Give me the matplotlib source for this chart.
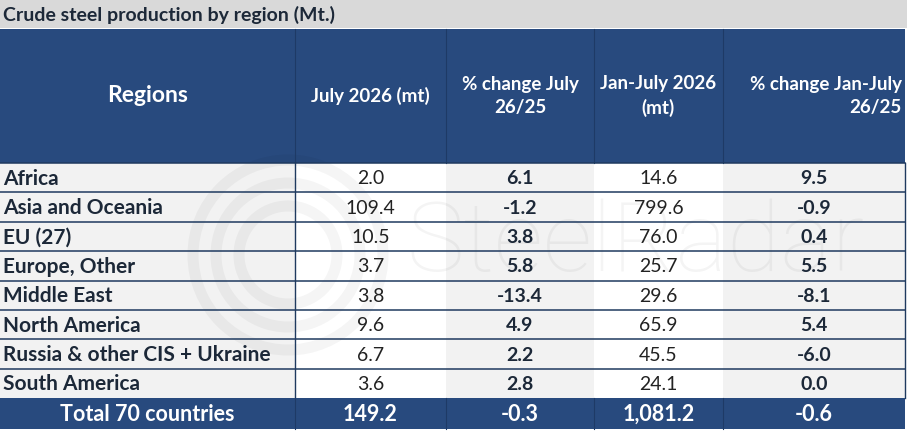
import matplotlib
matplotlib.use("Agg")
import matplotlib.pyplot as plt
from matplotlib.patches import Rectangle, Circle

plt.rcParams['font.family'] = ['Lato', 'DejaVu Sans']

title = "Crude steel production by region (Mt.)"
headers = ["Regions", "July 2026 (mt)", "% change July\n26/25",
           "Jan-July 2026\n(mt)", "% change Jan-July\n26/25"]
regions = ["Africa", "Asia and Oceania", "EU (27)", "Europe, Other", "Middle East",
           "North America", "Russia & other CIS + Ukraine", "South America"]
july_mt = ["2.0", "109.4", "10.5", "3.7", "3.8", "9.6", "6.7", "3.6"]
july_chg = ["6.1", "-1.2", "3.8", "5.8", "-13.4", "4.9", "2.2", "2.8"]
ytd_mt = ["14.6", "799.6", "76.0", "25.7", "29.6", "65.9", "45.5", "24.1"]
ytd_chg = ["9.5", "-0.9", "0.4", "5.5", "-8.1", "5.4", "-6.0", "0.0"]
total = ["Total 70 countries", "149.2", "-0.3", "1,081.2", "-0.6"]

NAVY = "#284a7e"
LINE = "#1f3a5f"
GRAY = "#f2f2f2"
TXT = "#1c2838"

W, H = 907, 432
fig = plt.figure(figsize=(W / 100, H / 100), dpi=100)
ax = fig.add_axes([0, 0, 1, 1])
ax.set_xlim(0, W)
ax.set_ylim(H, 0)
ax.axis("off")

cols = [0, 295, 446, 594, 723, 905]
title_h = 28
head_top, head_bot = 29, 163
row_h = 29.4

# title bar
ax.add_patch(Rectangle((0, 0), W, title_h, color="#d9d9d9", lw=0))
ax.text(3, title_h / 2 + 1, title, ha="left", va="center", fontsize=14,
        fontweight="bold", color=TXT)

# header
ax.add_patch(Rectangle((0, head_top), cols[-1], head_bot - head_top, color=NAVY, lw=0))
for x in cols[1:-1]:
    ax.plot([x, x], [head_top, head_bot], color="#1e3a66", lw=0.8)
hy = (head_top + head_bot) / 2
for i, h in enumerate(headers):
    if i == 0:
        ax.text((cols[0] + cols[1]) / 2, hy, h, ha="center", va="center",
                fontsize=16.5, fontweight="bold", color="white")
    elif i == 4:
        ax.text(cols[5] - 3, hy, h, ha="right", va="center", fontsize=13.5,
                fontweight="bold", color="white", multialignment="right",
                linespacing=1.4)
    else:
        ax.text((cols[i] + cols[i + 1]) / 2, hy, h, ha="center", va="center",
                fontsize=13.5, fontweight="bold", color="white", linespacing=1.4)

# body rows
n = len(regions)
fills = [GRAY, "white", GRAY, "white", GRAY]
for c in range(5):
    ax.add_patch(Rectangle((cols[c], head_bot), cols[c + 1] - cols[c], n * row_h,
                           color=fills[c], lw=0, zorder=0))

# watermark logo
for r in (95, 72, 49):
    ax.add_patch(Circle((288, 255), r, fill=False, ec="#000000", alpha=0.04, lw=8, zorder=1))
ax.text(636, 245, "SteelRadar", ha="center", va="center", fontsize=70,
        fontweight="light", family=["Roboto", "DejaVu Sans"],
        color="#000000", alpha=0.045, zorder=1)

values = [july_mt, july_chg, ytd_mt, ytd_chg]
for r in range(n):
    y0 = head_bot + r * row_h
    yc = y0 + row_h / 2 + 1
    ax.text(3, yc, regions[r], ha="left", va="center", fontsize=15,
            fontweight="bold", color=TXT, zorder=3)
    for c, col in enumerate(values):
        bold = c in (1, 3)
        ax.text((cols[c + 1] + cols[c + 2]) / 2, yc, col[r], ha="center", va="center",
                fontsize=14, fontweight="bold" if bold else "normal",
                color=TXT if bold else "#222222", zorder=3)
    ax.plot([0, cols[-1]], [y0, y0], color=LINE, lw=1.1, zorder=2)
ax.plot([cols[1], cols[1]], [head_bot, head_bot + n * row_h], color=LINE, lw=1.0, zorder=2)
ax.plot([cols[-1], cols[-1]], [head_bot, head_bot + n * row_h], color=LINE, lw=1.0, zorder=2)

# total row
ty = head_bot + n * row_h
ax.add_patch(Rectangle((0, ty), cols[-1], 31, color=NAVY, lw=0, zorder=2))
for x in cols[1:-1]:
    ax.plot([x, x], [ty, ty + 31], color="#1e3a66", lw=0.8, zorder=2)
for c, t in enumerate(total):
    ax.text((cols[c] + cols[c + 1]) / 2, ty + 16, t, ha="center", va="center",
            fontsize=15.5, fontweight="bold", color="white", zorder=3)

fig.savefig("out.png", dpi=100)
